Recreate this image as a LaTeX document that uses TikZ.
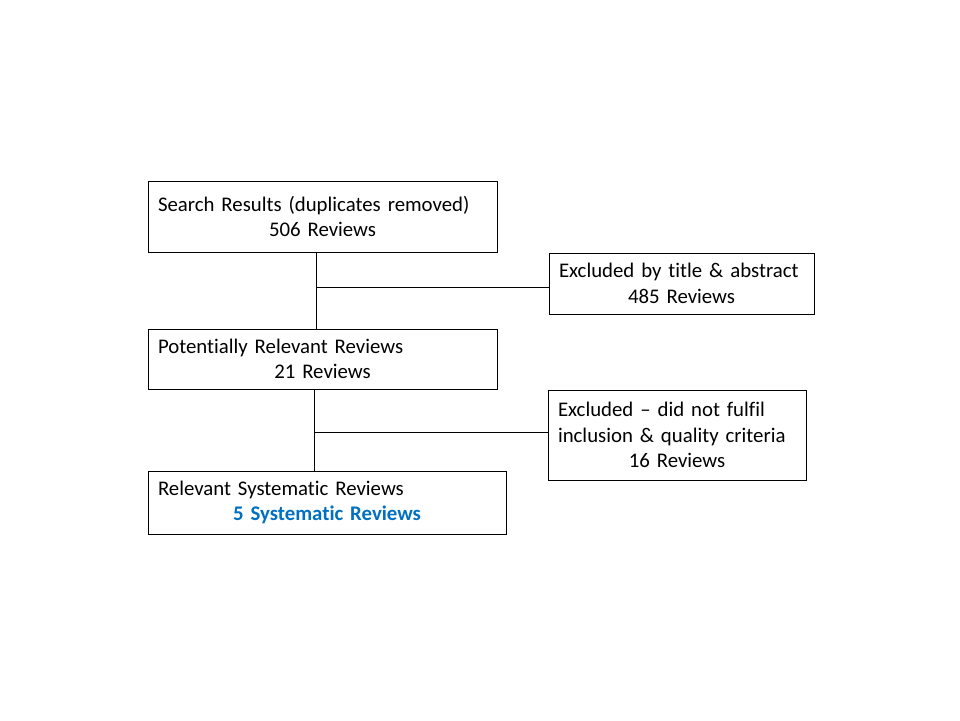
\documentclass[tikz,border=0pt]{standalone}
\usepackage{fontspec}
\setmainfont{Carlito}[RawFeature=-liga]
\usetikzlibrary{shapes}
\definecolor{resblue}{RGB}{0,112,192}
\newcommand{\firstline}[1]{\makebox[\linewidth][l]{#1}}
\begin{document}
\begin{tikzpicture}[x=1pt,y=-1pt,font=\fontsize{20.8}{25.5}\selectfont]
\useasboundingbox (0,0) rectangle (960,720);
\node[shape=rectangle,draw=black,align=center,line width=0.8pt,inner xsep=10pt,text width=329pt,minimum width=349pt,minimum height=71pt] (search) at (322.5,216.5) {\firstline{Search Results (duplicates removed)}\\506 Reviews\\[-5pt]};
\node[shape=rectangle,draw=black,align=center,line width=0.8pt,inner xsep=10pt,text width=245pt,minimum width=265pt,minimum height=61pt] (excl1) at (681.5,283.5) {\firstline{Excluded by title \& abstract}\\485 Reviews};
\node[shape=rectangle,draw=black,align=center,line width=0.8pt,inner xsep=10pt,text width=329pt,minimum width=349pt,minimum height=60pt] (potential) at (322.5,359) {\firstline{Potentially Relevant Reviews}\\21 Reviews};
\node[shape=rectangle,draw=black,align=center,line width=0.8pt,inner xsep=10pt,text width=238pt,minimum width=258pt,minimum height=90pt] (excl2) at (677,435) {\firstline{Excluded -- did not fulfil}\\\firstline{inclusion \& quality criteria}\\16 Reviews};
\node[shape=rectangle,draw=black,align=center,line width=0.8pt,inner xsep=10pt,text width=338pt,minimum width=358pt,minimum height=63pt] (relevant) at (327,502.5) {\firstline{Relevant Systematic Reviews}\\\textcolor{resblue}{\bfseries 5 Systematic Reviews}};

\coordinate (j1) at (316,287);
\coordinate (j2) at (314,432);
\path [draw=black,line width=1pt] (search.south -| j1) -- (potential.north -| j1);
\path [draw=black,line width=1pt] (j1) -- (j1 -| excl1.west);
\path [draw=black,line width=1pt] (potential.south -| j2) -- (relevant.north -| j2);
\path [draw=black,line width=1pt] (j2) -- (j2 -| excl2.west);
\end{tikzpicture}
\end{document}
